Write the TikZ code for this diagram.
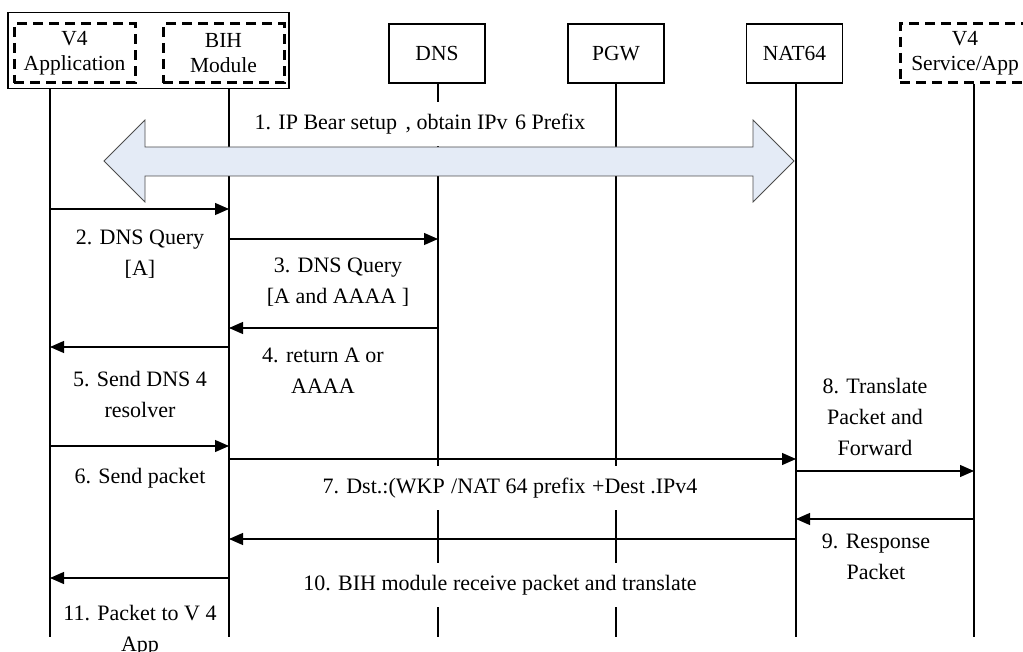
\documentclass[tikz,border=0pt]{standalone}
\usepackage{fontspec}
\setmainfont{Liberation Serif}
\usetikzlibrary{arrows.meta}
\begin{document}
\begin{tikzpicture}[x=1pt,y=-1pt,
  every node/.style={font=\fontsize{22}{31}\selectfont},
  boxfont/.style={font=\fontsize{21.5}{25}\selectfont},
  solidbox/.style={draw, boxfont, line width=1.2pt, minimum width=96pt, minimum height=59pt, inner sep=0pt, align=center},
  dashbox/.style={draw, boxfont, line width=3pt, dash pattern=on 10pt off 6pt, minimum width=121pt, minimum height=59pt, inner sep=0pt, align=center},
  lifeline/.style={line width=1.2pt},
  msg/.style={line width=1.2pt, -{Triangle[length=14pt,width=12pt]}},
  lbl/.style={fill=white, align=center, inner xsep=4pt, inner ysep=12pt},
  lbln/.style={align=center, inner sep=2pt}]
\useasboundingbox (0,0) rectangle (1023,652);
% participants
\node[draw, line width=1.2pt, minimum width=281pt, minimum height=76pt, inner sep=0pt] (grp) at (148.5,50.5) {};
\node[dashbox] (app) at (74.5,53.5) {V4\\Application};
\node[dashbox] (bih) at (223.5,53.5) {BIH\\Module};
\node[solidbox] (dns) at (437,53.5) {DNS};
\node[solidbox] (pgw) at (616,53.5) {PGW};
\node[solidbox] (nat) at (794.5,53.5) {NAT64};
\node[dashbox, minimum width=148pt] (svc) at (974,53.5) {};
\node[boxfont, align=center] (svct) at (965,53.5) {V4\\Service/App};
% lifeline ends
\coordinate (appE) at (50,637);
\coordinate (bihE) at (229,637);
\coordinate (dnsE) at (438,637);
\coordinate (pgwE) at (616,637);
\coordinate (natE) at (796,637);
\coordinate (svcE) at (974,637);
\draw[lifeline] (50,89) -- (appE);
\draw[lifeline] (229,89) -- (bihE);
\draw[lifeline] (dns.south -| dnsE) -- (dnsE);
\draw[lifeline] (pgw.south -| pgwE) -- (pgwE);
\draw[lifeline] (nat.south -| natE) -- (natE);
\draw[lifeline] (svc.south -| svcE) -- (svcE);
% labels covering lifelines
\node[lbl] (l1) at (420,124) {1. IP Bear setup\hspace{3pt} , obtain IPv\hspace{2pt} 6 Prefix};
\node[lbl] (l7) at (510,488) {7. Dst.:(WKP\hspace{1pt} /NAT 64 prefix\hspace{1pt} +Dest .IPv4};
\node[lbl] (l10) at (500,585) {10. BIH module receive packet and translate};
% big double arrow
\draw[line width=0.8pt, draw=black!70, fill={rgb,255:red,228;green,235;blue,246}]
  (104,161) -- (145,120) -- (145,147) -- (753,147) -- (753,120) -- (794,161)
  -- (753,202) -- (753,176) -- (145,176) -- (145,202) -- cycle;
% message end points
\coordinate (a2) at (50,209);  \coordinate (b2) at (229,209);
\coordinate (b3) at (229,239); \coordinate (d3) at (438,239);
\coordinate (d4) at (438,328); \coordinate (b4) at (229,328);
\coordinate (b5) at (229,347); \coordinate (a5) at (50,347);
\coordinate (a6) at (50,446);  \coordinate (b6) at (229,446);
\coordinate (b7) at (229,459); \coordinate (n7) at (796,459);
\coordinate (n8) at (796,471); \coordinate (s8) at (974,471);
\coordinate (s9) at (974,519); \coordinate (n9) at (796,519);
\coordinate (n10) at (796,539); \coordinate (b10) at (229,539);
\coordinate (b11) at (229,578); \coordinate (a11) at (50,578);
\draw[msg] (a2) -- (b2);
\draw[msg] (b3) -- (d3);
\draw[msg] (d4) -- (b4);
\draw[msg] (b5) -- (a5);
\draw[msg] (a6) -- (b6);
\draw[msg] (b7) -- (n7);
\draw[msg] (n8) -- (s8);
\draw[msg] (s9) -- (n9);
\draw[msg] (n10) -- (b10);
\draw[msg] (b11) -- (a11);
% other labels
\node[lbln] (l2) at (140,254) {2. DNS Query\\{}[A]};
\node[lbln] (l3) at (338,282) {3. DNS Query\\{}[A and AAAA ]};
\node[lbln] (l4) at (323,371) {4. return A or\\AAAA};
\node[lbln] (l5) at (140,394) {5. Send DNS 4\\resolver};
\node[lbln] (l6) at (140,478) {6. Send packet};
\node[lbln] (l8) at (875,417) {8. Translate\\Packet and\\Forward};
\node[lbln] (l9) at (876,557) {9. Response\\Packet};
\node[lbln] (l11) at (140,631) {11. Packet to V 4\\App};
\end{tikzpicture}
\end{document}
